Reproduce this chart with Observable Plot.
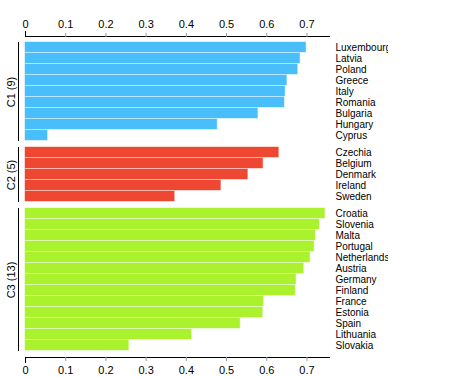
<!DOCTYPE html>
<html>
<head>
<meta charset="utf-8">
<script src="https://cdn.jsdelivr.net/npm/d3@7"></script>
<script src="https://cdn.jsdelivr.net/npm/@observablehq/plot@0.6"></script>
<style>
  html, body { margin: 0; padding: 0; background: white; }
  #chart svg { overflow: hidden; font-family: "Liberation Sans", Arial, sans-serif; }
</style>
</head>
<body>
<div id="chart"></div>
<script>
// ---- data ----
const clusterNames = ["C1", "C2", "C3"];
const clusterColors = ["#49befa", "#ee4732", "#aaf22d"];

const c1Countries = ["Luxembourg", "Latvia", "Poland", "Greece", "Italy", "Romania", "Bulgaria", "Hungary", "Cyprus"];
const c1Values = [0.698, 0.683, 0.677, 0.650, 0.646, 0.644, 0.578, 0.477, 0.055];

const c2Countries = ["Czechia", "Belgium", "Denmark", "Ireland", "Sweden"];
const c2Values = [0.630, 0.591, 0.553, 0.486, 0.371];

const c3Countries = ["Croatia", "Slovenia", "Malta", "Portugal", "Netherlands", "Austria", "Germany", "Finland", "France", "Estonia", "Spain", "Lithuania", "Slovakia"];
const c3Values = [0.745, 0.731, 0.721, 0.718, 0.708, 0.692, 0.673, 0.671, 0.592, 0.590, 0.534, 0.413, 0.257];

const xTicks = [0, 0.1, 0.2, 0.3, 0.4, 0.5, 0.6, 0.7];
const xTickLabels = ["0", "0.1", "0.2", "0.3", "0.4", "0.5", "0.6", "0.7"];

// ---- build tables ----
const groupCountries = [c1Countries, c2Countries, c3Countries];
const groupValues = [c1Values, c2Values, c3Values];
const gap = 6 / 11; // spacing between clusters, in bar-band units

const rows = [];
const groups = [];
let pos = 0;
groupCountries.forEach((countries, g) => {
  const start = pos;
  countries.forEach((c, i) => {
    rows.push({country: c, value: groupValues[g][i], cluster: clusterNames[g], color: clusterColors[g], y1: pos, y2: pos + 1, ym: pos + 0.5});
    pos += 1;
  });
  groups.push({name: clusterNames[g], n: countries.length, start, end: pos, mid: (start + pos) / 2});
  pos += gap;
});
const total = pos - gap;

const chart = Plot.plot({
  width: 388,
  height: 377,
  marginTop: 36,
  marginBottom: 20,
  marginLeft: 25,
  marginRight: 59,
  style: {fontSize: "10px", background: "white", fontFamily: "'Liberation Sans', Arial, sans-serif"},
  x: {domain: [0, 0.756], axis: null},
  y: {type: "linear", domain: [0, total], range: [42, 351], axis: null},
  marks: [
    Plot.rectX(rows, {
      x1: 0, x2: "value", y1: "y1", y2: "y2",
      fill: "color", stroke: "color", strokeOpacity: 0.45, insetBottom: 1
    }),
    Plot.frame({anchor: "top"}),
    Plot.frame({anchor: "bottom"}),
    Plot.axisX({anchor: "top", ticks: xTicks, tickSize: 4, tickPadding: 5, stroke: "#9a9a9a", fill: "black", fontSize: 11,
      tickFormat: (d, i) => xTickLabels[i], label: null}),
    Plot.axisX({anchor: "bottom", ticks: xTicks, tickSize: 4, tickPadding: 5, stroke: "#9a9a9a", fill: "black", fontSize: 11,
      tickFormat: (d, i) => xTickLabels[i], label: null}),
    Plot.axisX({anchor: "top", ticks: [0], tickSize: 6, tickFormat: () => "", label: null, stroke: "black"}),
    Plot.axisX({anchor: "bottom", ticks: [0], tickSize: 6, tickFormat: () => "", label: null, stroke: "black"}),
    Plot.ruleX(groups, {x: 0, y1: "start", y2: "end", dx: -7, stroke: "black"}),
    Plot.text(groups, {x: 0, y: "mid", text: d => `${d.name} (${d.n})`, rotate: -90, dx: -14, fontSize: 11, fill: "black"}),
    Plot.text(rows, {frameAnchor: "right", y: "ym", text: "country", textAnchor: "start", dx: 6, fill: "black", fontSize: 10})
  ]
});
document.getElementById("chart").appendChild(chart);
</script>
</body>
</html>
